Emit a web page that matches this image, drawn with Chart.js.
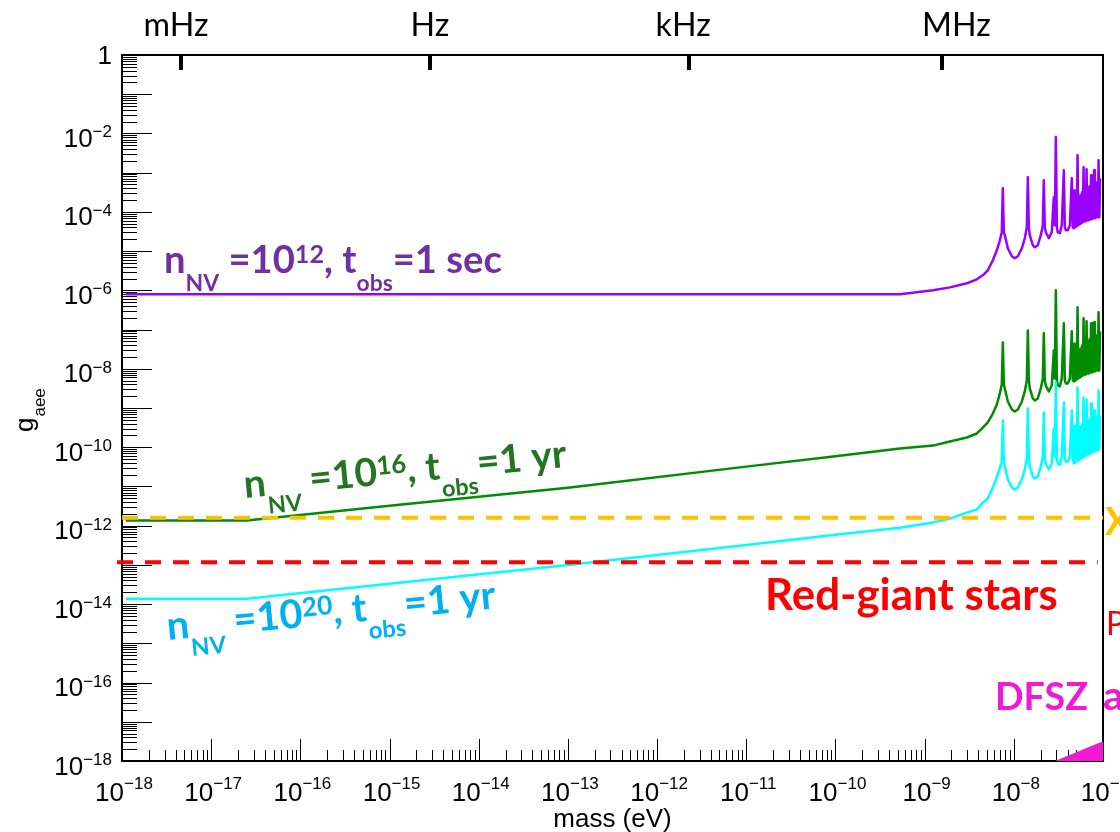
<!DOCTYPE html>
<html>
<head>
<meta charset="utf-8">
<script src="https://cdn.jsdelivr.net/npm/chart.js@4.4.1/dist/chart.umd.min.js"></script>
<style>
html,body{margin:0;padding:0;background:#ffffff;}
canvas{display:block;}
</style>
</head>
<body>
<canvas id="chart" width="1120" height="832"></canvas>
<script>
// ---------------- data ----------------
const mass = [1.1e-18, 2.5e-17, 1e-15, 1e-13, 1e-11, 1e-10, 5.3e-10, 1.24e-9, 1.92e-9, 2.97e-9,
  3.85e-9, 4.49e-9, 5.11e-9, 5.82e-9, 6.45e-9, 6.97e-9, 7.33e-9, 7.53e-9, 7.73e-9, 7.93e-9,
  8.57e-9, 9.51e-9, 1.026e-8, 1.109e-8,
  1.23e-8, 1.328e-8, 1.399e-8, 1.436e-8, 1.473e-8, 1.511e-8, 1.633e-8, 1.718e-8, 1.857e-8, 2.008e-8,
  2.115e-8, 2.169e-8, 2.225e-8, 2.283e-8, 2.468e-8, 2.667e-8, 2.807e-8, 2.88e-8, 2.96e-8, 3.04e-8,
  3.11e-8, 3.28e-8, 3.45e-8, 3.64e-8, 3.73e-8, 3.83e-8, 4.03e-8, 4.25e-8, 4.47e-8, 4.58e-8,
  4.706e-8, 4.798e-8, 4.892e-8, 4.988e-8, 5.085e-8, 5.185e-8, 5.286e-8, 5.390e-8, 5.495e-8, 5.602e-8,
  5.712e-8, 5.824e-8, 5.938e-8, 6.054e-8, 6.172e-8, 6.293e-8, 6.416e-8, 6.542e-8, 6.670e-8, 6.800e-8,
  6.933e-8, 7.069e-8, 7.207e-8, 7.348e-8, 7.492e-8, 7.638e-8, 7.788e-8, 7.940e-8, 8.095e-8, 8.254e-8,
  8.415e-8, 8.580e-8, 8.748e-8, 8.919e-8, 9.093e-8, 9.271e-8];

const gPurple = [7.9e-7, 7.9e-7, 7.9e-7, 7.9e-7, 7.9e-7, 7.9e-7, 8.0e-7, 1.0e-6, 1.19e-6, 1.51e-6,
  1.91e-6, 2.42e-6, 3.24e-6, 5.84e-6, 1.05e-5, 1.89e-5, 3.0e-5, 4.03e-4, 3.0e-5, 2.54e-5,
  1.18e-5, 7.39e-6, 6.57e-6, 7.39e-6,
  1.18e-5, 2.13e-5, 4.06e-5, 7.67e-4, 4.06e-5, 2.54e-5, 1.41e-5, 1.25e-5, 1.41e-5, 2.54e-5,
  4.57e-5, 6.44e-4, 4.06e-5, 3.03e-5, 2.13e-5, 3.03e-5, 2.37e-4, 4.57e-5, 8.07e-3, 4.06e-5,
  3.03e-5, 2.86e-5, 4.57e-5, 1.16e-3, 4.06e-5, 3.41e-5, 3.41e-5, 4.57e-5, 7.24e-4, 4.06e-5,
  3.83e-5, 3.57e-4, 4.06e-5, 1.99e-4, 4.31e-5, 2.80e-3, 4.57e-5, 2.23e-4, 4.85e-5, 2.67e-4,
  5.14e-5, 3.18e-4, 5.45e-5, 1.38e-3, 5.78e-5, 3.57e-4, 5.78e-5, 1.23e-3, 6.13e-5, 4.03e-4,
  6.13e-5, 4.53e-4, 6.50e-5, 8.63e-4, 6.50e-5, 4.80e-4, 6.90e-5, 1.16e-3, 6.90e-5, 5.40e-4,
  7.31e-5, 5.73e-4, 7.31e-5, 2.08e-3, 7.31e-5, 7.24e-4];

const gGreen = [1.35e-12, 1.35e-12, 3.2e-12, 9.3e-12, 3.2e-11, 5.9e-11, 9.3e-11, 1.10e-10, 1.40e-10, 1.77e-10,
  2.24e-10, 3.18e-10, 4.3e-10, 7.2e-10, 1.23e-9, 2.35e-9, 3.99e-9, 4.7e-8, 3.99e-9, 3.15e-9,
  1.47e-9, 9.17e-10, 8.15e-10, 9.17e-10,
  1.47e-9, 2.64e-9, 5.05e-9, 9.5e-8, 5.05e-9, 3.15e-9, 1.75e-9, 1.56e-9, 1.75e-9, 3.15e-9,
  5.68e-9, 8.0e-8, 5.05e-9, 3.76e-9, 2.64e-9, 3.76e-9, 2.94e-8, 5.68e-9, 1.0e-6, 5.05e-9,
  3.76e-9, 3.55e-9, 5.68e-9, 1.44e-7, 5.05e-9, 4.23e-9, 4.23e-9, 5.68e-9, 9.0e-8, 5.05e-9,
  4.75e-9, 4.44e-8, 5.05e-9, 2.47e-8, 5.35e-9, 3.68e-7, 5.68e-9, 2.77e-8, 6.01e-9, 3.31e-8,
  6.38e-9, 3.95e-8, 6.77e-9, 1.93e-7, 7.18e-9, 4.44e-8, 7.18e-9, 1.62e-7, 7.62e-9, 4.99e-8,
  7.62e-9, 5.62e-8, 8.07e-9, 1.44e-7, 8.07e-9, 5.96e-8, 8.57e-9, 1.53e-7, 8.57e-9, 6.70e-8,
  9.08e-9, 7.11e-8, 9.08e-9, 2.75e-7, 9.08e-9, 9.0e-8];

const gCyan = [1.37e-14, 1.37e-14, 3.3e-14, 1.0e-13, 3.2e-13, 5.9e-13, 8.9e-13, 1.2e-12, 1.51e-12, 2.15e-12,
  2.57e-12, 3.87e-12, 4.9e-12, 9.4e-12, 1.69e-11, 3.03e-11, 4.07e-11, 4.81e-10, 4.07e-11, 3.21e-11,
  1.5e-11, 9.4e-12, 8.3e-12, 9.4e-12,
  1.5e-11, 2.7e-11, 5.15e-11, 9.7e-10, 5.15e-11, 3.21e-11, 1.79e-11, 1.59e-11, 1.79e-11, 3.21e-11,
  5.79e-11, 7.7e-10, 5.15e-11, 3.84e-11, 2.7e-11, 3.84e-11, 3.0e-10, 5.79e-11, 4.5e-9, 5.15e-11,
  3.84e-11, 3.61e-11, 5.79e-11, 1.38e-9, 5.15e-11, 4.31e-11, 4.31e-11, 5.79e-11, 8.65e-10, 5.15e-11,
  3.84e-11, 3.58e-10, 4.07e-11, 2.67e-10, 4.31e-11, 3.34e-9, 4.57e-11, 3.00e-10, 4.85e-11, 3.38e-10,
  5.15e-11, 3.80e-10, 5.46e-11, 1.86e-9, 5.79e-11, 4.27e-10, 6.14e-11, 1.65e-9, 6.51e-11, 4.81e-10,
  6.51e-11, 5.10e-10, 6.90e-11, 1.31e-9, 7.32e-11, 5.40e-10, 7.32e-11, 8.65e-10, 7.76e-11, 5.73e-10,
  8.23e-11, 6.08e-10, 8.23e-11, 2.81e-9, 8.73e-11, 6.44e-10];

const massDFSZ = [2.9e-8, 1e-7];
const gDFSZ = [1e-18, 3.2e-18];
const massXenon = [1e-18, 1e-7];
const gXenon = [1.6e-12, 1.6e-12];
const massRedGiant = [8.8e-19, 8.74e-8];
const gRedGiant = [1.17e-13, 1.17e-13];

const xTickExponents = [-18, -17, -16, -15, -14, -13, -12, -11, -10, -9, -8, -7];
const yTickExponents = [0, -2, -4, -6, -8, -10, -12, -14, -16, -18];
const freqLabels = ['mHz', 'Hz', 'kHz', 'MHz'];
const freqMass = [4.6e-18, 2.84e-15, 2.29e-12, 1.58e-9];

// ---------------- drawing helpers ----------------
const SANS = '"Liberation Sans", Arial, Helvetica, sans-serif';
const CAL = 'Lato, "Open Sans", sans-serif';
const SUB = 0.6, SUP = 0.66;

function partSize(mode, size) { return mode === 0 ? size : size * (mode < 0 ? SUB : SUP); }
function richWidth(ctx, parts, size, weight, fam) {
  let w = 0;
  for (const [t, m] of parts) {
    ctx.font = `${weight} ${partSize(m, size)}px ${fam}`;
    w += ctx.measureText(t).width;
  }
  return w;
}
function drawRich(ctx, parts, o) {
  const weight = o.weight || 'bold', fam = o.family || CAL;
  let size = o.size;
  if (o.width) size = size * o.width / richWidth(ctx, parts, size, weight, fam);
  ctx.save();
  ctx.translate(o.x, o.y);
  ctx.rotate(o.angle || 0);
  ctx.fillStyle = o.color;
  ctx.textAlign = 'left';
  ctx.textBaseline = 'alphabetic';
  let cx = 0;
  for (const [t, m] of parts) {
    ctx.font = `${weight} ${partSize(m, size)}px ${fam}`;
    const dy = m < 0 ? size * 0.46 : (m > 0 ? -size * 0.26 : 0);
    ctx.fillText(t, cx, dy);
    cx += ctx.measureText(t).width;
  }
  ctx.restore();
}
function drawPow(ctx, e, ax, baseY, expY, align) {
  const sup = '\u2212' + Math.abs(e);
  ctx.font = `26px ${SANS}`;
  const wb = ctx.measureText('10').width;
  ctx.font = `17px ${SANS}`;
  const we = ctx.measureText(sup).width;
  const x0 = align === 'right' ? ax - wb - we : ax - (wb + we) / 2;
  ctx.textAlign = 'left';
  ctx.font = `26px ${SANS}`;
  ctx.fillText('10', x0, baseY);
  ctx.font = `17px ${SANS}`;
  ctx.fillText(sup, x0 + wb, expY);
}

const axisPlugin = {
  id: 'axisPlugin',
  beforeDatasetsDraw(chart) {
    const { ctx, chartArea: a, scales: { x, y } } = chart;
    ctx.save();
    ctx.strokeStyle = '#000';
    ctx.lineWidth = 1;
    ctx.beginPath();
    for (let e = -18; e <= 0; e++) {
      const py = Math.round(y.getPixelForValue(Math.pow(10, e))) + 0.5;
      ctx.moveTo(a.left, py); ctx.lineTo(a.left + 30, py);
      if (e < 0) {
        for (let k = 2; k <= 9; k++) {
          const pm = Math.round(y.getPixelForValue(k * Math.pow(10, e))) + 0.5;
          ctx.moveTo(a.left, pm); ctx.lineTo(a.left + 15, pm);
        }
      }
    }
    for (let e = -18; e <= -7; e++) {
      const px = Math.round(x.getPixelForValue(Math.pow(10, e))) + 0.5;
      ctx.moveTo(px, a.bottom); ctx.lineTo(px, a.bottom - 22);
      if (e < -7) {
        for (let k = 2; k <= 9; k++) {
          const pm = Math.round(x.getPixelForValue(k * Math.pow(10, e))) + 0.5;
          ctx.moveTo(pm, a.bottom); ctx.lineTo(pm, a.bottom - 11);
        }
      }
    }
    ctx.stroke();
    // frame
    ctx.lineWidth = 2;
    ctx.strokeStyle = '#000';
    ctx.strokeRect(a.left, a.top, a.right - a.left, a.bottom - a.top);
    // frequency ticks on the top axis
    ctx.lineWidth = 4;
    ctx.beginPath();
    for (const m of freqMass) {
      const px = Math.round(x.getPixelForValue(m));
      ctx.moveTo(px, a.top); ctx.lineTo(px, a.top + 15);
    }
    ctx.stroke();
    ctx.restore();
  },
  afterDraw(chart) {
    const { ctx, chartArea: a, scales: { x, y } } = chart;
    ctx.save();
    ctx.fillStyle = '#000';
    ctx.textBaseline = 'alphabetic';
    // y tick labels
    for (const e of yTickExponents) {
      const py = y.getPixelForValue(Math.pow(10, e));
      if (e === 0) {
        ctx.font = `26px ${SANS}`;
        ctx.textAlign = 'right';
        ctx.fillText('1', 112, py + 9);
        continue;
      }
      drawPow(ctx, e, 112, py + 13.5, py + 4, 'right');
    }
    // x tick labels
    for (const e of xTickExponents) {
      const px = x.getPixelForValue(Math.pow(10, e));
      drawPow(ctx, e, px + 2, a.bottom + 40, a.bottom + 28, 'center');
    }
    // axis titles
    ctx.font = `26px ${SANS}`;
    ctx.textAlign = 'center';
    ctx.fillText('mass (eV)', (a.left + a.right) / 2, 827);
    ctx.save();
    ctx.translate(33, 432);
    ctx.rotate(-Math.PI / 2);
    ctx.textAlign = 'left';
    ctx.font = `26px ${SANS}`;
    ctx.fillText('g', 0, 0);
    const gw = ctx.measureText('g').width;
    ctx.font = `17px ${SANS}`;
    ctx.fillText('aee', gw + 1, 12);
    ctx.restore();
    // frequency labels on the top
    const freqOffset = [-5, 0, -6, 14];
    ctx.font = `30px ${CAL}`;
    const mw = ctx.measureText('mHz').width;
    const fsize = 30 * 65 / mw;
    ctx.font = `${fsize}px ${CAL}`;
    ctx.textAlign = 'center';
    freqLabels.forEach((t, i) => {
      const px = x.getPixelForValue(freqMass[i]);
      ctx.fillText(t, px + freqOffset[i], 36);
    });
    ctx.restore();

    // curve annotations
    drawRich(ctx, [['n', 0], ['NV', -1], [' =10', 0], ['12', 1], [', t', 0], ['obs', -1], ['=1 sec', 0]],
      { x: 164, y: 273, size: 32, width: 338, color: '#7030A0' });
    drawRich(ctx, [['n', 0], ['NV', -1], [' =10', 0], ['16', 1], [', t', 0], ['obs', -1], ['=1 yr', 0]],
      { x: 245, y: 498, size: 32, width: 324, color: '#237523', angle: -5.5 * Math.PI / 180 });
    drawRich(ctx, [['n', 0], ['NV', -1], [' =10', 0], ['20', 1], [', t', 0], ['obs', -1], ['=1 yr', 0]],
      { x: 168, y: 640, size: 32, width: 330, color: '#00B0F0', angle: -5.5 * Math.PI / 180 });
    drawRich(ctx, [['Red-giant stars', 0]], { x: 765, y: 610, size: 38, width: 293, color: '#FF0000' });
    drawRich(ctx, [['X', 0]], { x: 1105, y: 535, size: 38, color: '#FFC000' });
    drawRich(ctx, [['P', 0]], { x: 1106, y: 635, size: 32, color: '#FF0000', weight: 'normal' });
    drawRich(ctx, [['DFSZ', 0]], { x: 995, y: 710, size: 40, width: 93, color: '#F01AD4' });
    drawRich(ctx, [['a', 0]], { x: 1103, y: 710, size: 41, color: '#F01AD4' });
  }
};

const pts = (xs, ys) => xs.map((v, i) => ({ x: v, y: ys[i] }));
const lineStyle = { pointRadius: 0, fill: false, tension: 0, borderJoinStyle: 'round', borderWidth: 2.5 };

new Chart(document.getElementById('chart'), {
  type: 'line',
  data: {
    datasets: [
      { data: pts(massXenon, gXenon), borderColor: '#FFC000', borderWidth: 4, borderDash: [16, 12], pointRadius: 0, fill: false },
      { data: pts(massRedGiant, gRedGiant), borderColor: '#FF0000', borderWidth: 4, borderDash: [16, 12], pointRadius: 0, fill: false, clip: false },
      Object.assign({ data: pts(mass, gCyan), borderColor: '#00FFFF' }, lineStyle),
      Object.assign({ data: pts(mass, gGreen), borderColor: '#008C00' }, lineStyle),
      Object.assign({ data: pts(mass, gPurple), borderColor: '#9900FF' }, lineStyle),
      { data: pts(massDFSZ, gDFSZ), borderWidth: 0, borderColor: 'rgba(0,0,0,0)', backgroundColor: '#F01AD4', fill: 'start', pointRadius: 0 }
    ]
  },
  options: {
    responsive: false,
    animation: false,
    devicePixelRatio: 1,
    events: [],
    layout: { padding: { left: 122, top: 55, right: 17, bottom: 71 } },
    plugins: { legend: { display: false }, tooltip: { enabled: false } },
    scales: {
      x: { type: 'logarithmic', min: 1e-18, max: 1e-7, display: false },
      y: { type: 'logarithmic', min: 1e-18, max: 1, display: false }
    }
  },
  plugins: [axisPlugin]
});
</script>
</body>
</html>
